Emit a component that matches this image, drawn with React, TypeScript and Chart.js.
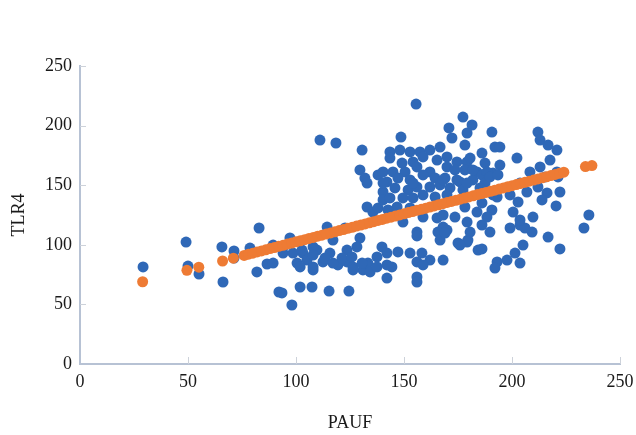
import React, { useEffect, useRef } from "react";
import { Chart, registerables } from "chart.js";

Chart.register(...registerables);

const observed: [number, number][] = [
  [29.2, 81.4], [49.1, 102.3], [50.0, 82.2], [55.1, 75.5], [65.7, 98.2], [66.2, 68.8], [71.3, 94.8], [71.3, 88.9],
  [78.7, 97.3], [81.9, 77.2], [86.6, 83.9], [89.4, 99.8], [82.9, 114.1], [89.4, 84.7], [92.1, 60.4],
  [93.5, 59.6], [98.1, 49.5], [94.0, 93.1], [98.6, 93.1], [103.2, 93.1], [100.5, 84.7], [105.1, 87.2], [101.9, 81.4],
  [107.9, 78.9], [112.5, 85.6], [109.7, 95.6], [115.7, 93.1], [119.4, 83.1], [123.6, 85.6], [126.4, 81.4], [131.0, 78.9],
  [133.3, 84.7], [137.5, 89.8], [134.3, 77.2], [137.5, 81.4], [101.9, 64.6], [107.4, 64.6], [115.3, 61.2], [124.5, 61.2],
  [114.4, 114.9], [117.1, 104.0], [129.6, 105.7], [128.2, 98.2], [123.6, 95.6], [132.9, 131.7], [135.6, 127.5],
  [107.9, 98.2], [102.8, 95.6], [94.0, 98.2], [107.9, 91.4], [113.4, 88.9], [117.1, 84.7], [121.3, 88.9], [125.9, 89.8],
  [130.6, 84.7], [107.9, 81.4], [126.4, 78.9], [111.1, 187.9], [118.5, 185.4], [130.6, 179.5], [129.6, 162.8],
  [131.9, 156.0], [132.9, 151.8], [138.0, 158.6], [138.0, 130.9], [97.2, 105.7], [122.7, 114.1],
  [155.6, 218.1], [177.3, 207.2], [181.5, 200.5], [170.8, 198.0], [179.2, 193.8], [148.6, 190.4], [172.2, 189.6],
  [178.2, 183.7], [143.5, 177.9], [148.1, 179.5], [152.8, 177.9], [157.4, 177.9], [162.0, 179.5], [166.7, 182.0],
  [143.5, 172.8], [149.1, 168.6], [154.2, 169.5], [158.8, 173.7], [165.3, 171.1], [169.9, 173.7], [174.5, 169.5],
  [179.2, 169.5], [140.3, 161.1], [144.9, 161.1], [150.5, 161.1], [156.0, 165.3], [162.0, 161.1], [169.9, 165.3],
  [173.6, 162.8], [178.2, 162.8], [183.8, 161.1], [142.1, 152.7], [147.2, 156.0], [152.8, 154.4], [158.8, 158.6],
  [164.4, 156.0], [169.0, 156.0], [175.9, 152.7], [181.9, 154.4], [140.3, 144.3], [145.8, 147.7], [151.9, 146.0],
  [156.0, 148.5], [162.0, 148.5], [166.7, 150.2], [171.3, 147.7], [177.3, 146.0], [140.3, 137.6], [143.5, 139.3],
  [149.5, 139.3], [154.2, 139.3], [158.8, 141.8], [164.4, 140.1], [169.9, 141.8], [154.2, 151.8], [140.3, 151.8],
  [146.8, 131.7], [149.5, 119.1], [158.8, 123.3], [165.3, 122.5], [173.6, 123.3], [179.2, 119.1], [168.1, 114.9],
  [175.0, 101.5], [139.8, 98.2], [142.1, 93.1], [147.2, 94.0], [152.8, 93.1], [158.3, 93.1], [156.0, 85.6],
  [162.0, 87.2], [168.1, 87.2], [142.1, 83.1], [142.1, 72.1], [156.0, 73.0], [156.0, 68.8], [156.0, 110.7],
  [156.0, 107.4], [165.7, 110.7], [166.7, 104.0], [169.9, 112.4], [179.6, 104.0], [180.6, 110.7], [184.3, 95.6],
  [144.4, 81.4], [158.8, 83.1], [142.6, 129.2], [152.8, 130.9],
  [190.7, 194.6], [212.0, 194.6], [213.0, 187.9], [216.7, 183.7], [220.8, 179.5], [192.1, 182.0], [194.4, 182.0],
  [186.1, 177.0], [202.3, 172.8], [187.5, 168.6], [194.4, 166.9], [217.6, 171.1], [213.0, 165.3], [208.3, 161.1],
  [191.2, 160.2], [186.1, 158.6], [221.3, 156.9], [215.3, 156.9], [203.7, 151.8], [187.5, 151.8], [206.9, 144.3],
  [212.0, 148.5], [222.2, 144.3], [216.2, 143.5], [199.1, 141.8], [191.2, 141.8], [202.8, 135.9], [213.9, 137.6],
  [180.6, 172.8], [181.9, 162.8], [188.4, 161.1], [189.8, 156.9], [193.5, 158.6], [174.5, 154.4], [168.1, 154.4],
  [179.2, 151.8], [185.2, 147.7], [193.1, 140.1], [220.8, 161.1], [220.4, 132.6], [200.5, 127.5], [190.7, 129.2],
  [183.8, 127.5], [178.2, 131.7], [168.1, 125.0], [209.7, 123.3], [203.7, 116.6], [199.1, 114.1], [209.3, 110.7],
  [189.8, 110.7], [179.2, 102.3], [175.9, 99.8], [169.0, 109.9], [216.7, 106.5], [222.2, 96.5], [205.1, 99.8],
  [201.4, 93.1], [197.7, 87.2], [193.1, 85.6], [192.1, 80.5], [203.7, 84.7], [186.1, 135.1], [188.4, 123.3],
  [186.1, 116.6], [206.0, 114.1], [203.7, 120.8], [186.1, 96.5], [233.3, 114.1], [235.6, 125.0],
];

// Fitted (predicted) values
const fitted: [number, number][] = [
  [29, 69.0], [49.5, 78.6], [55, 81.2], [66, 86.4], [71, 88.8],
  [76, 91.1], [78, 92.1], [80, 93.0], [82, 94.0], [84, 94.9], [86, 95.8], [88, 96.8], [90, 97.7],
  [92, 98.7], [94, 99.6], [96, 100.6], [98, 101.5], [100, 102.5], [102, 103.4], [104, 104.3], [106, 105.3],
  [108, 106.2], [110, 107.2], [112, 108.1], [114, 109.1], [116, 110.0], [118, 110.9], [120, 111.9], [122, 112.8],
  [124, 113.8], [126, 114.7], [128, 115.7], [130, 116.6], [132, 117.5], [134, 118.5], [136, 119.4], [138, 120.4],
  [140, 121.3], [142, 122.3], [144, 123.2], [146, 124.1], [148, 125.1], [150, 126.0], [152, 127.0], [154, 127.9],
  [156, 128.9], [158, 129.8], [160, 130.7], [162, 131.7], [164, 132.6], [166, 133.6], [168, 134.5], [170, 135.5],
  [172, 136.4], [174, 137.3], [176, 138.3], [178, 139.2], [180, 140.2], [182, 141.1], [184, 142.1], [186, 143.0],
  [188, 143.9], [190, 144.9], [192, 145.8], [194, 146.8], [196, 147.7], [198, 148.7], [200, 149.6], [202, 150.5],
  [204, 151.5], [206, 152.4], [208, 153.4], [210, 154.3], [212, 155.3], [214, 156.2], [216, 157.1], [218, 158.1],
  [220, 159.0], [222, 160.0], [224, 160.9], [234, 165.6], [237, 166.5],
];

const xTicks = [0, 50, 100, 150, 200, 250];
const yTicks = [0, 50, 100, 150, 200, 250];

const BLUE = "#2f68b7";
const ORANGE = "#ee7b34";
const AXIS = "#b7c2d4";
const TICKMARK = "#cdd2da";
const FONT = "'Liberation Serif', 'Times New Roman', serif";

const innerTicks = {
  id: "innerTicks",
  beforeDatasetsDraw(chart: any) {
    const { ctx } = chart;
    const xs = chart.scales.x;
    const ys = chart.scales.y;
    const bottom = chart.chartArea.bottom;
    const left = chart.chartArea.left;
    ctx.save();
    ctx.strokeStyle = TICKMARK;
    ctx.lineWidth = 1;
    ctx.beginPath();
    xTicks.forEach((v) => {
      if (v === 0) return;
      const px = Math.round(xs.getPixelForValue(v)) + 0.5;
      ctx.moveTo(px, bottom);
      ctx.lineTo(px, bottom - 7);
    });
    yTicks.forEach((v) => {
      if (v === 0) return;
      const py = Math.round(ys.getPixelForValue(v)) + 0.5;
      ctx.moveTo(left, py);
      ctx.lineTo(left + 6, py);
    });
    ctx.stroke();
    ctx.restore();
  },
};

export default function App() {
  const ref = useRef<HTMLCanvasElement | null>(null);

  useEffect(() => {
    if (!ref.current) return;
    const chart = new Chart(ref.current, {
      type: "scatter",
      data: {
        datasets: [
          {
            label: "Predicted TLR4",
            data: fitted.map(([x, y]) => ({ x, y })),
            backgroundColor: ORANGE,
            borderWidth: 0,
            pointRadius: 5.5,
            order: 0,
          },
          {
            label: "TLR4",
            data: observed.map(([x, y]) => ({ x, y })),
            backgroundColor: BLUE,
            borderWidth: 0,
            pointRadius: 5.5,
            order: 1,
          },
        ],
      },
      options: {
        animation: false,
        responsive: false,
        layout: { padding: { left: 0, right: 16, top: 66, bottom: 0 } },
        plugins: {
          legend: { display: false },
          tooltip: { enabled: false },
        },
        scales: {
          x: {
            type: "linear",
            min: 0,
            max: 250,
            afterBuildTicks: (s: any) => {
              s.ticks = xTicks.map((v) => ({ value: v }));
            },
            afterFit: (s: any) => {
              s.height = 71;
              s.paddingLeft = 0;
              s.paddingRight = 0;
            },
            grid: { display: false, drawTicks: false },
            border: { display: true, color: AXIS, width: 2 },
            ticks: {
              padding: 7,
              color: "#1a1a1a",
              font: { family: FONT, size: 18 },
              maxRotation: 0,
            },
            title: {
              display: true,
              text: "PAUF",
              color: "#1a1a1a",
              font: { family: FONT, size: 18 },
              padding: { top: 0, bottom: 1 },
            },
          },
          y: {
            type: "linear",
            min: 0,
            max: 250,
            afterBuildTicks: (s: any) => {
              s.ticks = yTicks.map((v) => ({ value: v }));
            },
            afterFit: (s: any) => {
              s.width = 80;
            },
            grid: { display: false, drawTicks: false },
            border: { display: true, color: AXIS, width: 2 },
            ticks: {
              padding: 8,
              color: "#1a1a1a",
              font: { family: FONT, size: 18 },
            },
            title: {
              display: true,
              text: "TLR4",
              color: "#1a1a1a",
              font: { family: FONT, size: 18 },
              padding: { top: 8, bottom: 0 },
            },
          },
        },
      },
      plugins: [innerTicks],
    });
    return () => chart.destroy();
  }, []);

  return (
    <div style={{ position: "fixed", left: 0, top: 0, width: 636, height: 435, background: "#fff" }}>
      <canvas ref={ref} width={636} height={435} style={{ display: "block" }} />
    </div>
  );
}
